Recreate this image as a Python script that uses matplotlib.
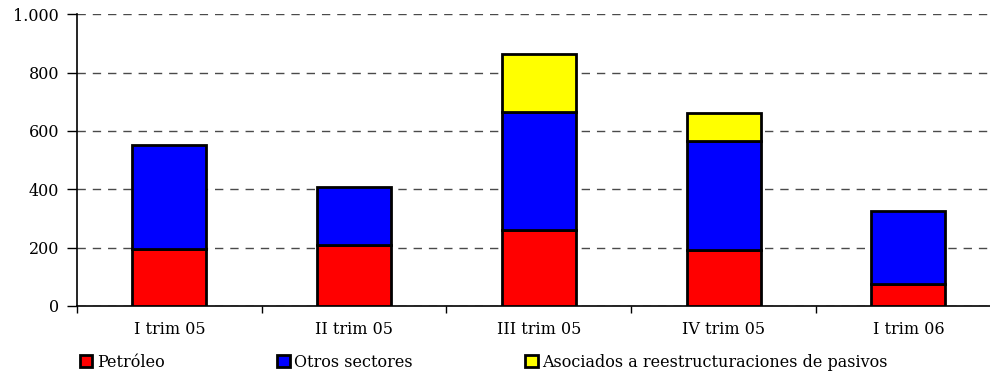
import matplotlib.pyplot as plt
import numpy as np

categorias = ["I trim 05", "II trim 05", "III trim 05", "IV trim 05", "I trim 06"]
petroleo = [194, 209, 260, 192, 74]
otros = [357, 199, 405, 375, 251]
asociados = [0, 0, 197, 96, 0]
yticks = [0, 200, 400, 600, 800, 1000]
ytick_labels = ["0", "200", "400", "600", "800", "1.000"]

plt.rcParams['font.family'] = ['DejaVu Serif']

fig = plt.figure(figsize=(9.9, 3.74), dpi=100)
ax = fig.add_axes([0.0778, 0.182, 0.933, 0.780])

x = np.arange(len(categorias))
w = 0.4
b1 = ax.bar(x, petroleo, w, color="#ff0000", edgecolor="black", linewidth=2, zorder=3)
b2 = ax.bar(x, otros, w, bottom=petroleo, color="#0000ff", edgecolor="black", linewidth=2, zorder=3)
base = np.array(petroleo) + np.array(otros)
asoc = np.array(asociados)
b3 = ax.bar(x[asoc > 0], asoc[asoc > 0], w, bottom=base[asoc > 0], color="#ffff00",
            edgecolor="black", linewidth=2, zorder=3)

ax.set_xlim(-0.5, len(categorias) - 0.5)
ax.set_ylim(0, 1000)
ax.set_yticks(yticks)
ax.set_yticklabels(ytick_labels, fontsize=11.5)
ax.yaxis.grid(True, linestyle=(0, (6, 5)), color="#4a4a4a", linewidth=1, zorder=0)

# category labels centred, tick marks at the boundaries
ax.set_xticks(x)
ax.set_xticklabels(categorias, fontsize=11.5)
ax.tick_params(axis="x", length=0, pad=11)
ax.set_xticks(np.arange(len(categorias) + 1) - 0.5, minor=True)
ax.tick_params(axis="x", which="minor", length=5, width=1, direction="out")
ax.tick_params(axis="y", length=7, width=1, direction="out", pad=6)

for s in ["top", "right"]:
    ax.spines[s].set_visible(False)
ax.spines["left"].set_linewidth(1.2)
ax.spines["bottom"].set_linewidth(1.2)

fig.legend([b1, b2, b3], ["Petróleo", "Otros sectores", "Asociados a reestructuraciones de pasivos"],
           loc="lower left", bbox_to_anchor=(0.066, -0.03), ncol=3, frameon=False,
           fontsize=11.5, handlelength=0.8, handleheight=0.8, handletextpad=0.3,
           columnspacing=7.0)

fig.savefig("out.png", dpi=100)
